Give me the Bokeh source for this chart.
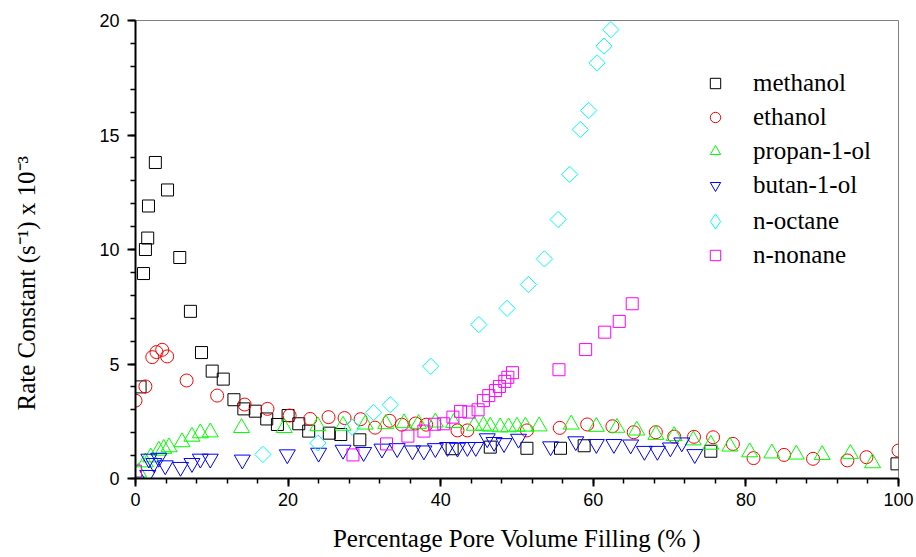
import math
from bokeh.plotting import figure
from bokeh.models import Range1d, Legend, LegendItem, FixedTicker, Title
from bokeh.embed import file_html
from bokeh.resources import INLINE

# ---- data (x = % pore volume filling, y = rate constant x 10^-3 s^-1) ----
methanol_x = [0.6, 1.05, 1.3, 1.6, 1.7, 2.6, 4.2, 5.8, 7.2, 8.65, 10.05, 11.5, 12.9, 14.2, 15.7,
              17.2, 18.6, 20.0, 21.4, 22.7, 25.4, 26.9, 29.4, 41.5, 46.5, 51.3, 55.7, 58.8, 75.4, 99.8]
methanol_y = [4.0, 8.95, 10.0, 10.5, 11.9, 13.8, 12.6, 9.65, 7.3, 5.5, 4.69, 4.34, 3.44, 3.04, 2.94,
              2.6, 2.36, 2.75, 2.39, 2.07, 1.98, 1.92, 1.69, 1.3, 1.37, 1.32, 1.32, 1.43, 1.19, 0.64]

ethanol_x = [0.0, 1.3, 2.2, 2.75, 3.5, 4.15, 6.7, 10.7, 14.3, 17.3, 20.2, 22.9, 25.3, 27.4, 29.5,
             31.4, 33.3, 34.9, 36.7, 38.1, 42.2, 43.5, 51.3, 55.6, 59.2, 62.5, 65.3, 68.2, 70.6,
             73.2, 75.7, 78.3, 81.0, 85.0, 88.8, 93.3, 95.8, 100.0]
ethanol_y = [3.4, 4.02, 5.3, 5.52, 5.62, 5.33, 4.28, 3.62, 3.23, 3.04, 2.75, 2.6, 2.68, 2.64, 2.59,
             2.22, 2.52, 2.35, 2.4, 2.35, 2.1, 2.1, 2.1, 2.21, 2.36, 2.28, 2.02, 2.02, 1.83,
             1.82, 1.8, 1.51, 0.89, 1.03, 0.86, 0.79, 0.93, 1.22]

propanol_x = [0.4, 1.3, 2.0, 3.05, 3.7, 4.4, 6.1, 7.4, 8.5, 9.8, 13.9, 19.5, 23.9, 27.2, 30.1,
              32.8, 35.2, 37.1, 39.3, 41.7, 44.4, 45.6, 46.5, 47.8, 48.9, 50.0, 51.1, 52.9, 57.1,
              60.4, 63.1, 65.7, 68.2, 70.6, 73.1, 75.4, 77.9, 80.5, 83.4, 86.6, 90.0, 93.7, 96.6]
propanol_y = [0.27, 0.71, 0.93, 1.22, 1.3, 1.37, 1.59, 1.83, 1.98, 2.02, 2.21, 2.21, 2.29, 2.31, 2.36,
              2.39, 2.42, 2.39, 2.45, 2.43, 2.31, 2.31, 2.27, 2.24, 2.24, 2.27, 2.27, 2.28, 2.36,
              2.26, 2.22, 2.1, 1.91, 1.86, 1.67, 1.48, 1.4, 1.15, 1.1, 1.05, 1.03, 1.08, 0.67]

butanol_x = [1.6, 1.75, 2.4, 3.05, 3.9, 5.9, 7.4, 8.5, 9.8, 14.0, 19.9, 24.0, 27.2, 29.9, 32.3,
             34.3, 36.3, 37.8, 39.3, 40.9, 42.2, 43.5, 44.6, 46.1, 47.0, 48.3, 50.2, 54.4, 57.7,
             60.4, 62.7, 64.9, 66.7, 68.4, 70.1, 71.6, 73.3]
butanol_y = [0.15, 0.86, 0.67, 0.9, 0.57, 0.5, 0.67, 0.86, 0.86, 0.82, 1.05, 1.12, 1.25, 1.15, 1.3,
             1.32, 1.22, 1.22, 1.32, 1.37, 1.34, 1.37, 1.37, 1.75, 1.59, 1.54, 1.73, 1.4, 1.62,
             1.5, 1.5, 1.48, 1.2, 1.2, 1.35, 1.57, 1.06]

octane_x = [16.7, 23.9, 28.4, 31.2, 33.4, 38.7, 45.0, 48.7, 51.5, 53.6, 55.4, 56.9, 58.3, 59.4,
            60.5, 61.4, 62.3]
octane_y = [1.05, 1.55, 2.24, 2.88, 3.22, 4.9, 6.72, 7.43, 8.47, 9.59, 11.31, 13.28, 15.24, 16.07,
            18.15, 18.88, 19.6]

nonane_x = [0.0, 28.5, 32.9, 35.7, 37.8, 39.2, 40.4, 41.6, 42.6, 43.7, 44.9, 45.6, 46.3, 47.2,
            47.7, 48.4, 48.8, 49.4, 55.5, 59.0, 61.5, 63.4, 65.1]
nonane_y = [0.32, 1.03, 1.51, 1.85, 2.07, 2.37, 2.39, 2.68, 2.93, 2.9, 3.0, 3.4, 3.62, 3.84,
            4.02, 4.24, 4.42, 4.62, 4.75, 5.63, 6.39, 6.86, 7.63]

series_names = ["methanol", "ethanol", "propan-1-ol", "butan-1-ol", "n-octane", "n-nonane"]

x_ticks = [0, 20, 40, 60, 80, 100]
y_ticks = [0, 5, 10, 15, 20]
x_minor = list(range(0, 101, 4))
y_minor = list(range(0, 21))

x_title = "Percentage Pore Volume Filling (% )"
y_title = "Rate Constant (s\u207b\u00b9) x 10\u207b\u00b3"

# ---- figure ----
p = figure(width=916, height=557, x_range=Range1d(0, 100), y_range=Range1d(0, 20),
           output_backend="svg", toolbar_location=None,
           min_border_left=135, min_border_right=18, min_border_top=20, min_border_bottom=79)
p.background_fill_color = "white"
p.border_fill_color = "white"
p.outline_line_color = "#808080"
p.outline_line_width = 1
p.xgrid.visible = False
p.ygrid.visible = False

for ax in (p.xaxis[0], p.yaxis[0]):
    ax.axis_line_color = "black"
    ax.axis_line_width = 2
    ax.major_tick_line_color = "black"
    ax.major_tick_line_width = 2
    ax.minor_tick_line_color = "black"
    ax.minor_tick_line_width = 1.5
    ax.major_tick_in = 0
    ax.major_tick_out = 8
    ax.minor_tick_in = 0
    ax.minor_tick_out = 5
    ax.major_label_text_font = "Liberation Sans"
    ax.major_label_text_font_size = "18px"
    ax.major_label_text_color = "black"
    ax.axis_label_text_font = "Liberation Serif"
    ax.axis_label_text_font_size = "25px"
    ax.axis_label_text_font_style = "normal"
    ax.axis_label_text_color = "black"

p.xaxis[0].ticker = FixedTicker(ticks=x_ticks, minor_ticks=x_minor)
p.yaxis[0].ticker = FixedTicker(ticks=y_ticks, minor_ticks=y_minor)
p.xaxis.major_label_standoff = 6
p.yaxis.major_label_standoff = 8

p.xaxis.axis_label = x_title
p.xaxis.axis_label_standoff = 16

# blank y-axis label only reserves room, so the side title below sits further left
p.yaxis.axis_label = " "
p.yaxis.axis_label_standoff = 27

# y-axis title as a side title (lets it sit below the centre, as in the original)
ytitle = Title(text=y_title, align="left", offset=68, standoff=0,
               text_font="Liberation Serif", text_font_size="25px",
               text_font_style="normal", text_color="black")
p.add_layout(ytitle, "left")

kw = dict(fill_color=None, line_width=1)
r1 = p.scatter(methanol_x, methanol_y, marker="square", size=12, line_color="black", **kw)
r2 = p.scatter(ethanol_x, ethanol_y, marker="circle", size=13, line_color="#ff0000", **kw)
r3 = p.scatter(propanol_x, propanol_y, marker="triangle", size=16, line_color="#00ff00", **kw)
r4 = p.scatter(butanol_x, butanol_y, marker="inverted_triangle", size=16, line_color="#0000ff", **kw)
r5 = p.scatter(octane_x, octane_y, marker="square", angle=math.pi / 4, size=11.5,
               line_color="#00ffff", **kw)
r6 = p.scatter(nonane_x, nonane_y, marker="square", size=12, line_color="#ff00ff", **kw)
# zero-size companion of the octane series, used only to draw a diamond key in the legend
r5_key = p.scatter(octane_x, octane_y, marker="diamond", size=0, line_color="#00ffff", **kw)

common = dict(orientation="vertical", label_text_font="Liberation Serif",
              label_text_font_size="25px", label_text_color="black",
              spacing=0, padding=0, margin=0, border_line_color=None,
              background_fill_alpha=0)

legA = Legend(items=[LegendItem(label=n, renderers=[r]) for n, r in
                     zip(series_names[:4], [r1, r2, r3, r4])],
              location=(567, 276), glyph_width=26, glyph_height=34, label_height=34,
              label_standoff=25, **common)
legB = Legend(items=[LegendItem(label=series_names[4], renderers=[r5_key])],
              location=(561, 238), glyph_width=38, glyph_height=38, label_height=38,
              label_standoff=19, **common)
legC = Legend(items=[LegendItem(label=series_names[5], renderers=[r6])],
              location=(567, 206), glyph_width=26, glyph_height=34, label_height=34,
              label_standoff=25, **common)
p.add_layout(legA)
p.add_layout(legB)
p.add_layout(legC)

open("out.html", "w").write(file_html(p, INLINE))
